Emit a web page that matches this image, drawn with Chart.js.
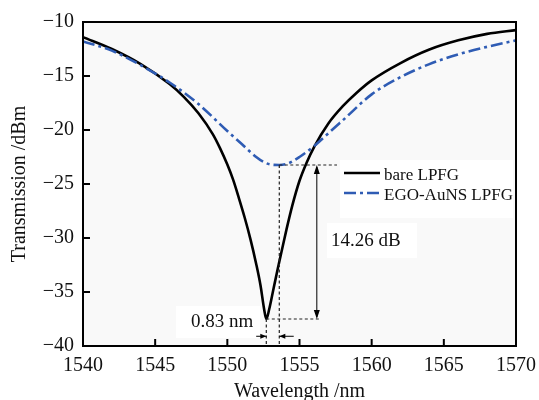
<!DOCTYPE html>
<html>
<head>
<meta charset="utf-8">
<script src="https://cdn.jsdelivr.net/npm/chart.js@4"></script>
<style>
  html, body { margin: 0; padding: 0; background: #fff; }
</style>
</head>
<body>
<canvas id="chart" width="539" height="400"></canvas>
<script>
// bare LPFG transmission spectrum
const bareWavelength = [1540, 1542, 1544, 1546, 1547, 1548, 1549, 1549.5, 1550, 1550.4, 1550.8, 1551.2, 1551.6,
  1552.0, 1552.3, 1552.55, 1552.7, 1552.9, 1553.2, 1553.5, 1553.8, 1554.1, 1554.5, 1555, 1555.5, 1556,
  1557, 1558, 1559, 1560, 1562, 1564, 1566, 1568, 1570];
const bareTransmission = [-11.4, -12.5, -13.9, -15.75, -16.95, -18.45, -20.4, -21.7, -23.2, -24.6, -26.3, -28.1, -30.1,
  -32.4, -34.4, -36.6, -37.5, -36.6, -34.7, -32.8, -31.0, -29.2, -27.0, -24.7, -23.0, -21.6,
  -19.4, -17.8, -16.5, -15.4, -13.8, -12.55, -11.7, -11.1, -10.75];

// EGO-AuNS coated LPFG
const egoWavelength = [1540, 1542, 1544, 1546, 1548, 1550, 1551, 1552, 1552.5, 1553, 1553.6, 1554.2, 1555,
  1556, 1557, 1558, 1560, 1562, 1564, 1566, 1568, 1570];
const egoTransmission = [-11.8, -12.65, -14.0, -15.6, -17.6, -20.1, -21.3, -22.5, -22.95, -23.2, -23.24, -23.1, -22.5,
  -21.5, -20.3, -19.1, -16.7, -15.1, -13.9, -13.0, -12.3, -11.7];

const seriesLabels = ["bare LPFG", "EGO-AuNS LPFG"];
const xTicks = [1540, 1545, 1550, 1555, 1560, 1565, 1570];
const yTicks = [-40, -35, -30, -25, -20, -15, -10];

// resonance dips used by the annotations
const bareDip = [1552.7, -37.5];
const egoDip = [1553.6, -23.24];
const depthLabel = "14.26 dB";
const shiftLabel = "0.83 nm";

const BLUE = "#2f5cb4";
const SERIF = '"Liberation Serif", "Times New Roman", serif';

function line(ctx, x1, y1, x2, y2) {
  ctx.beginPath();
  ctx.moveTo(x1, y1);
  ctx.lineTo(x2, y2);
  ctx.stroke();
}

function arrowHead(ctx, x, y, dx, dy, len, half) {
  // tip at (x,y), pointing along (dx,dy)
  const nx = -dy, ny = dx;
  ctx.beginPath();
  ctx.moveTo(x, y);
  ctx.lineTo(x - dx * len + nx * half, y - dy * len + ny * half);
  ctx.lineTo(x - dx * len - nx * half, y - dy * len - ny * half);
  ctx.closePath();
  ctx.fill();
}

const annotate = {
  id: "annotate",
  beforeDatasetsDraw(chart) {
    const { ctx, chartArea: a } = chart;
    ctx.save();
    ctx.fillStyle = "#f9f9f9";
    ctx.fillRect(a.left, a.top, a.right - a.left, a.bottom - a.top);
    ctx.fillStyle = "#fff";
    ctx.fillRect(a.right - 176, 160, 173, 58);   // legend
    ctx.fillRect(327, 223, 90, 35);              // depth label
    ctx.fillRect(176, 306, 84, 32);              // shift label
    ctx.restore();
  },
  afterDatasetsDraw(chart) {
    const { ctx, chartArea: a, scales: { x, y } } = chart;
    const px = v => x.getPixelForValue(v);
    const py = v => y.getPixelForValue(v);
    ctx.save();

    // dotted guides
    ctx.strokeStyle = "#222";
    ctx.lineWidth = 1.2;
    ctx.setLineDash([3, 2.5]);
    line(ctx, px(egoDip[0]), py(egoDip[1]), px(1557.6), py(egoDip[1]));
    line(ctx, px(bareDip[0]), py(bareDip[1]), px(1556.4), py(bareDip[1]));
    line(ctx, px(egoDip[0]), py(egoDip[1]), px(egoDip[0]), a.bottom);
    line(ctx, px(bareDip[0]), py(bareDip[1]), px(bareDip[0]), a.bottom);

    // depth arrow
    ctx.setLineDash([]);
    ctx.fillStyle = "#000";
    ctx.strokeStyle = "#000";
    ctx.lineWidth = 1;
    const ax = px(1556.2);
    line(ctx, ax, py(egoDip[1]) + 2, ax, py(bareDip[1]) - 2);
    arrowHead(ctx, ax, py(egoDip[1]), 0, -1, 9, 3);
    arrowHead(ctx, ax, py(bareDip[1]), 0, 1, 9, 3);

    // shift arrows
    const sy = py(-39.1);
    line(ctx, px(1552.0), sy, px(bareDip[0]), sy);
    arrowHead(ctx, px(bareDip[0]), sy, 1, 0, 6, 2.5);
    line(ctx, px(1554.6), sy, px(egoDip[0]), sy);
    arrowHead(ctx, px(egoDip[0]), sy, -1, 0, 6, 2.5);

    // labels
    ctx.fillStyle = "#111";
    ctx.font = "19px " + SERIF;
    ctx.textBaseline = "alphabetic";
    ctx.textAlign = "left";
    ctx.fillText(depthLabel, 331, 246);
    ctx.fillText(shiftLabel, 191, 327);

    // frame and inward ticks
    ctx.strokeStyle = "#000";
    ctx.lineWidth = 2;
    ctx.strokeRect(a.left, a.top, a.right - a.left, a.bottom - a.top);
    xTicks.forEach(v => line(ctx, px(v), a.bottom, px(v), a.bottom - 7));
    yTicks.forEach(v => line(ctx, a.left, py(v), a.left + 7, py(v)));

    // legend
    const lx = a.right - 172;
    ctx.lineWidth = 2.6;
    line(ctx, lx, 173, lx + 36, 173);
    ctx.strokeStyle = BLUE;
    ctx.setLineDash([12, 4, 3, 4]);
    line(ctx, lx, 193, lx + 36, 193);
    ctx.setLineDash([]);
    ctx.font = "17px " + SERIF;
    ctx.fillStyle = "#111";
    ctx.fillText(seriesLabels[0], lx + 40, 180);
    ctx.fillText(seriesLabels[1], lx + 40, 200);

    ctx.restore();
  }
};

const toPoints = (xs, ys) => xs.map((w, i) => ({ x: w, y: ys[i] }));

new Chart(document.getElementById("chart"), {
  type: "line",
  data: {
    datasets: [
      {
        label: seriesLabels[1],
        data: toPoints(egoWavelength, egoTransmission),
        borderColor: BLUE,
        borderWidth: 2.6,
        borderDash: [12, 4, 3, 4],
        pointRadius: 0,
        fill: false,
        cubicInterpolationMode: "monotone"
      },
      {
        label: seriesLabels[0],
        data: toPoints(bareWavelength, bareTransmission),
        borderColor: "#000",
        borderWidth: 2.6,
        pointRadius: 0,
        fill: false,
        cubicInterpolationMode: "monotone"
      }
    ]
  },
  options: {
    responsive: false,
    animation: false,
    events: [],
    layout: { padding: { top: 22, right: 23, left: 0, bottom: 0 } },
    plugins: { legend: { display: false }, tooltip: { enabled: false } },
    scales: {
      x: {
        type: "linear",
        min: 1540,
        max: 1570,
        afterBuildTicks: s => { s.ticks = xTicks.map(v => ({ value: v })); },
        afterFit: s => { s.height = 54; s.paddingLeft = 0; s.paddingRight = 0; },
        grid: { display: false, drawTicks: false },
        border: { display: false },
        ticks: {
          padding: 8,
          maxRotation: 0,
          color: "#111",
          font: { family: SERIF, size: 20 },
          callback: v => String(v)
        },
        title: {
          display: true,
          text: "Wavelength /nm",
          color: "#111",
          font: { family: SERIF, size: 20, lineHeight: 0.8 },
          padding: 0
        }
      },
      y: {
        type: "linear",
        min: -40,
        max: -10,
        afterBuildTicks: s => { s.ticks = yTicks.map(v => ({ value: v })); },
        afterFit: s => { s.width = 83; },
        grid: { display: false, drawTicks: false },
        border: { display: false },
        ticks: {
          padding: 9,
          color: "#111",
          font: { family: SERIF, size: 20 },
          callback: v => String(v).replace("-", "\u2212")
        },
        title: {
          display: true,
          text: "Transmission /dBm",
          color: "#111",
          font: { family: SERIF, size: 20, lineHeight: 1 },
          padding: { top: 10, bottom: 0 }
        }
      }
    }
  },
  plugins: [annotate]
});
</script>
</body>
</html>
